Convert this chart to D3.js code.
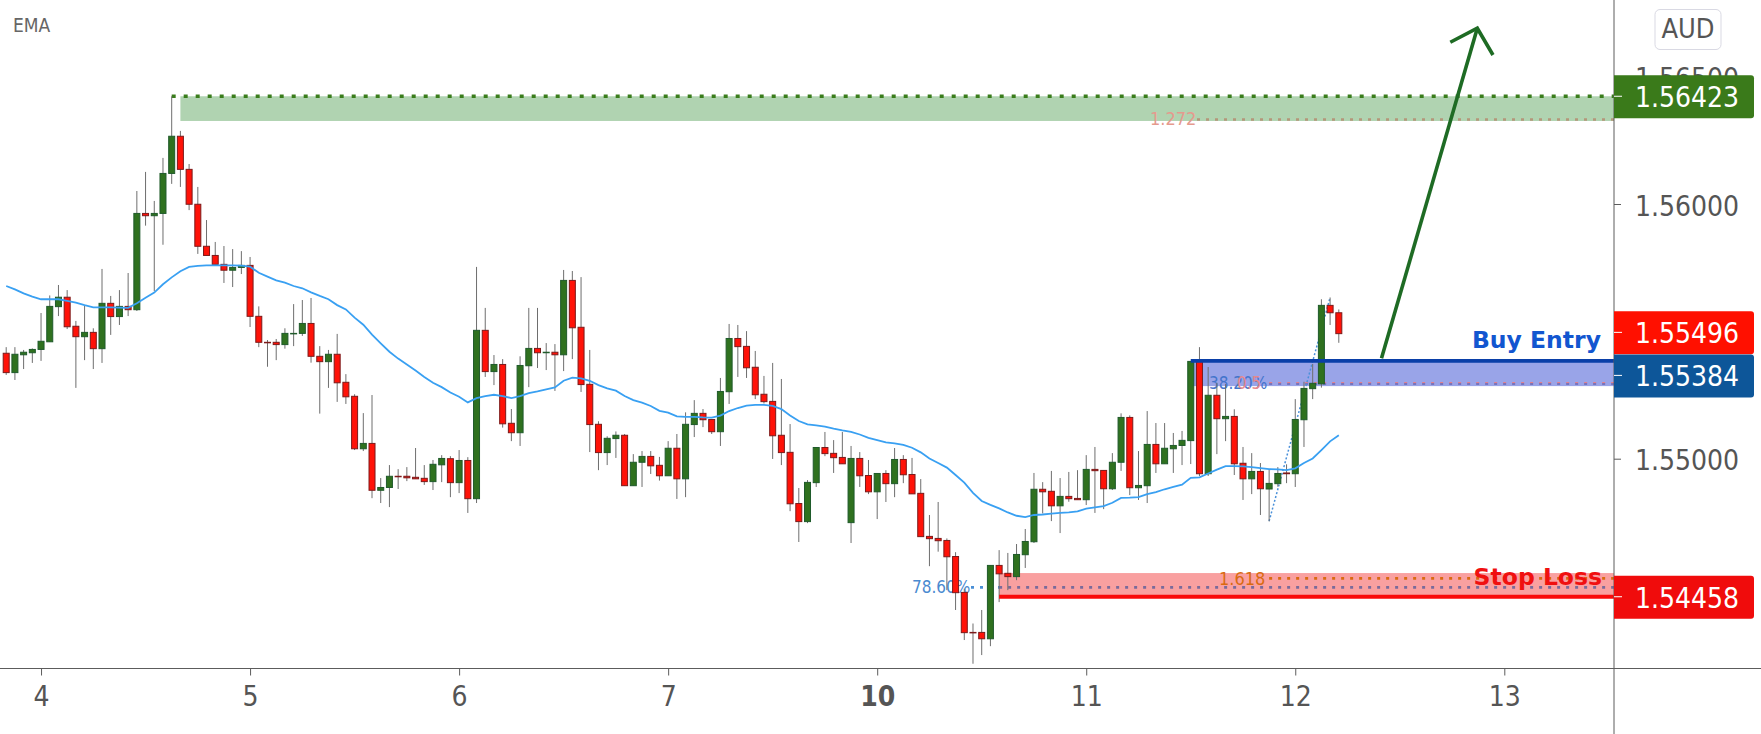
<!DOCTYPE html>
<html>
<head>
<meta charset="utf-8" />
<title>AUD chart</title>
<script src="https://cdnjs.cloudflare.com/ajax/libs/d3/7.8.5/d3.min.js"></script>
<style>
	html, body { margin: 0; padding: 0; background: #fff; overflow: hidden; }
	svg { display: block; }
	text { font-family: "DejaVu Sans Condensed", "DejaVu Sans", sans-serif; }
</style>
</head>
<body>
<svg id="chart" width="1761" height="734"></svg>
<script>
// hourly candles, index 0 is the first bar on screen
var opens = [1.55414,1.55338,1.55408,1.55416,1.55429,1.55459,1.55597,1.55634,1.55520,1.55479,1.55496,1.55432,1.55610,1.55558,1.55598,1.55585,1.55963,1.55954,1.55963,1.56120,1.56266,1.56136,1.55999,1.55834,1.55798,1.55763,1.55740,1.55751,1.55759,1.55559,1.55457,1.55457,1.55448,1.55491,1.55492,1.55531,1.55402,1.55381,1.55410,1.55300,1.55245,1.55039,1.55060,1.54876,1.54887,1.54931,1.54931,1.54927,1.54923,1.54910,1.54976,1.55000,1.54906,1.54993,1.54843,1.55504,1.55342,1.55370,1.55139,1.55102,1.55365,1.55433,1.55416,1.55418,1.55408,1.55700,1.55516,1.55292,1.55135,1.55024,1.55079,1.55092,1.54894,1.54986,1.55009,1.54974,1.54933,1.55041,1.54921,1.55134,1.55178,1.55154,1.55106,1.55263,1.55472,1.55441,1.55359,1.55253,1.55225,1.55092,1.55025,1.54824,1.54753,1.54906,1.55044,1.55021,1.55005,1.54749,1.55001,1.54934,1.54870,1.54942,1.54902,1.54997,1.54938,1.54864,1.54695,1.54687,1.54679,1.54616,1.54475,1.54318,1.54318,1.54293,1.54581,1.54550,1.54537,1.54623,1.54674,1.54880,1.54872,1.54815,1.54852,1.54844,1.54839,1.54958,1.54954,1.54882,1.54986,1.55162,1.54886,1.54894,1.55056,1.54980,1.55039,1.55052,1.55071,1.55382,1.54941,1.55249,1.55157,1.55166,1.54982,1.54921,1.54950,1.54881,1.54902,1.54944,1.54941,1.55153,1.55275,1.55294,1.55602,1.55573];
var highs = [1.55438,1.55438,1.55427,1.55433,1.55572,1.55641,1.55682,1.55662,1.55541,1.55601,1.55512,1.55745,1.55639,1.55662,1.55729,1.56051,1.56126,1.56012,1.56181,1.56423,1.56287,1.56157,1.56067,1.55937,1.55851,1.55835,1.55823,1.55815,1.55792,1.55598,1.55466,1.55470,1.55512,1.55607,1.55623,1.55631,1.55442,1.55427,1.55490,1.55332,1.55253,1.55179,1.55250,1.54924,1.54975,1.54959,1.54967,1.55042,1.54975,1.54995,1.55014,1.55010,1.55034,1.55006,1.55753,1.55592,1.55407,1.55391,1.55195,1.55402,1.55592,1.55592,1.55454,1.55450,1.55741,1.55737,1.55713,1.55427,1.55147,1.55088,1.55107,1.55097,1.55018,1.55030,1.55030,1.55007,1.55069,1.55097,1.55182,1.55230,1.55195,1.55154,1.55317,1.55529,1.55525,1.55501,1.55423,1.55325,1.55376,1.55313,1.55136,1.54885,1.54916,1.55044,1.55105,1.55073,1.55105,1.55050,1.55026,1.54995,1.54942,1.54955,1.55042,1.55014,1.55003,1.54920,1.54779,1.54830,1.54687,1.54633,1.54490,1.54353,1.54406,1.54581,1.54641,1.54630,1.54665,1.54724,1.54944,1.54908,1.54952,1.54924,1.54948,1.54955,1.55014,1.55046,1.54955,1.55022,1.55178,1.55170,1.55030,1.55187,1.55140,1.55140,1.55101,1.55109,1.55382,1.55438,1.55360,1.55298,1.55293,1.55194,1.55046,1.55022,1.54983,1.54958,1.54967,1.54978,1.55234,1.55302,1.55372,1.55626,1.55633,1.55586];
var lows = [1.55329,1.55309,1.55352,1.55376,1.55384,1.55459,1.55560,1.55509,1.55278,1.55387,1.55352,1.55376,1.55486,1.55525,1.55560,1.55580,1.55915,1.55658,1.55840,1.56079,1.56067,1.55976,1.55804,1.55798,1.55763,1.55690,1.55674,1.55725,1.55517,1.55438,1.55361,1.55387,1.55432,1.55442,1.55482,1.55377,1.55177,1.55278,1.55223,1.55215,1.55034,1.55030,1.54845,1.54826,1.54810,1.54881,1.54912,1.54921,1.54897,1.54877,1.54908,1.54849,1.54865,1.54787,1.54826,1.55321,1.55289,1.55122,1.55069,1.55050,1.55281,1.55356,1.55348,1.55266,1.55344,1.55391,1.55262,1.55026,1.54955,1.54975,1.55003,1.54894,1.54894,1.54889,1.54940,1.54914,1.54933,1.54842,1.54849,1.55085,1.55124,1.55097,1.55050,1.55215,1.55321,1.55317,1.55234,1.55217,1.54999,1.54975,1.54794,1.54673,1.54747,1.54889,1.55010,1.54944,1.54980,1.54669,1.54889,1.54861,1.54763,1.54830,1.54849,1.54904,1.54862,1.54694,1.54578,1.54635,1.54484,1.54406,1.54288,1.54195,1.54229,1.54264,1.54437,1.54484,1.54523,1.54571,1.54669,1.54785,1.54755,1.54708,1.54831,1.54839,1.54818,1.54787,1.54802,1.54877,1.54952,1.54857,1.54838,1.54826,1.54944,1.54980,1.54944,1.54975,1.54979,1.54932,1.54932,1.55018,1.55069,1.54936,1.54838,1.54861,1.54779,1.54754,1.54890,1.54904,1.54889,1.55046,1.55234,1.55279,1.55525,1.55455];
var closes = [1.55338,1.55410,1.55418,1.55429,1.55461,1.55598,1.55634,1.55518,1.55479,1.55496,1.55432,1.55610,1.55558,1.55598,1.55585,1.55963,1.55954,1.55963,1.56120,1.56266,1.56136,1.55999,1.55834,1.55798,1.55763,1.55740,1.55751,1.55759,1.55559,1.55457,1.55455,1.55448,1.55492,1.55492,1.55531,1.55402,1.55381,1.55410,1.55298,1.55243,1.55039,1.55060,1.54876,1.54887,1.54931,1.54929,1.54925,1.54921,1.54910,1.54978,1.55001,1.54906,1.54993,1.54843,1.55504,1.55342,1.55370,1.55137,1.55102,1.55366,1.55433,1.55416,1.55418,1.55408,1.55700,1.55514,1.55291,1.55134,1.55024,1.55080,1.55092,1.54894,1.54986,1.55009,1.54972,1.54933,1.55041,1.54921,1.55135,1.55178,1.55153,1.55106,1.55264,1.55472,1.55440,1.55357,1.55251,1.55224,1.55090,1.55024,1.54823,1.54753,1.54907,1.55044,1.55020,1.55004,1.54980,1.55001,1.54933,1.54870,1.54942,1.54902,1.54997,1.54937,1.54862,1.54694,1.54686,1.54678,1.54615,1.54474,1.54317,1.54317,1.54293,1.54581,1.54548,1.54537,1.54624,1.54675,1.54880,1.54870,1.54815,1.54852,1.54843,1.54839,1.54958,1.54953,1.54882,1.54986,1.55162,1.54886,1.54895,1.55056,1.54980,1.55041,1.55052,1.55072,1.55382,1.54941,1.55249,1.55157,1.55166,1.54980,1.54921,1.54950,1.54882,1.54903,1.54942,1.54941,1.55154,1.55276,1.55296,1.55602,1.55573,1.55491];
var ema = [1.55678,1.55665,1.55649,1.55636,1.55626,1.55626,1.55626,1.55620,1.55613,1.55603,1.55594,1.55594,1.55594,1.55593,1.55592,1.55610,1.55632,1.55652,1.55685,1.55712,1.55736,1.55753,1.55757,1.55759,1.55759,1.55759,1.55759,1.55758,1.55754,1.55730,1.55715,1.55700,1.55691,1.55678,1.55669,1.55653,1.55639,1.55626,1.55603,1.55586,1.55554,1.55526,1.55487,1.55453,1.55420,1.55393,1.55370,1.55346,1.55321,1.55298,1.55281,1.55260,1.55243,1.55221,1.55238,1.55246,1.55251,1.55246,1.55238,1.55246,1.55257,1.55264,1.55272,1.55280,1.55306,1.55318,1.55315,1.55306,1.55289,1.55276,1.55267,1.55246,1.55230,1.55220,1.55207,1.55188,1.55181,1.55166,1.55164,1.55164,1.55162,1.55161,1.55169,1.55187,1.55199,1.55208,1.55211,1.55211,1.55207,1.55195,1.55170,1.55148,1.55135,1.55131,1.55126,1.55118,1.55111,1.55105,1.55095,1.55082,1.55073,1.55064,1.55060,1.55054,1.55043,1.55025,1.55001,1.54983,1.54965,1.54936,1.54906,1.54866,1.54834,1.54819,1.54805,1.54789,1.54776,1.54771,1.54779,1.54781,1.54784,1.54787,1.54789,1.54793,1.54804,1.54809,1.54814,1.54827,1.54846,1.54847,1.54849,1.54861,1.54869,1.54880,1.54889,1.54898,1.54925,1.54927,1.54942,1.54957,1.54971,1.54971,1.54970,1.54967,1.54963,1.54959,1.54958,1.54955,1.54962,1.54983,1.55001,1.55034,1.55068,1.55092];

var dayLabels = ["4","5","6","7","10","11","12","13"];
var dayBars = [4,28,52,76,100,124,148,172];
var priceTicks = [1.565,1.56,1.55];

// drawn levels: start bar and price
var targetTop = 1.56423, targetBottom = 1.56326, targetStart = 20, targetDotStart = 19;
var ext1272 = 1.56332, ext1272Start = 137;
var entryTop = 1.55384, entryBottom = 1.55285, entryStart = 136;
var fib382 = 1.55296;
var stopLine = 1.54458, stopTop = 1.54551, stopStart = 114;
var ext1618 = 1.5453, fib786 = 1.54495;
var fibLeg = [[145,1.54755],[152,1.55633]];
var arrowShaft = [[157.9,1.55394],[168.9,1.5669]];
var arrowHead = [[165.8,1.56635],[168.9,1.5669],[170.7,1.56585]];

var svg = d3.select("#chart");
var axisX = 1614, axisY = 668.5;

var x = d3.scaleLinear().domain([0,172]).range([6.2,1504.3]);
var y = d3.scaleLinear().domain([1.56,1.55]).range([204,458.7]);

var candles = d3.range(opens.length).map(function(i){
	return {i:i, o:opens[i], h:highs[i], l:lows[i], c:closes[i]};
});

function hline(p, x1, x2, color, w, dash){
	svg.append("line")
		.attr("x1",x1).attr("x2",x2)
		.attr("y1",y(p)).attr("y2",y(p))
		.attr("stroke",color).attr("stroke-width",w).attr("stroke-dasharray",dash);
}

function label(txt, px, py, color, size, anchor, weight){
	return svg.append("text")
		.attr("x",px).attr("y",py)
		.attr("fill",color).attr("font-size",size)
		.attr("text-anchor",anchor||"start")
		.attr("font-weight",weight||"normal")
		.text(txt);
}

// zones
svg.append("rect").attr("x",x(targetStart)).attr("width",axisX-x(targetStart))
	.attr("y",y(targetTop)).attr("height",y(targetBottom)-y(targetTop)).attr("fill","#b0d3b1");
svg.append("rect").attr("x",x(entryStart)).attr("width",axisX-x(entryStart))
	.attr("y",y(entryTop)).attr("height",y(entryBottom)-y(entryTop)).attr("fill","#99a4e8");
svg.append("rect").attr("x",x(stopStart)).attr("width",axisX-x(stopStart))
	.attr("y",y(stopTop)).attr("height",y(stopLine)-y(stopTop)).attr("fill","#f9a0a0");

// dotted levels
hline(targetTop, x(targetDotStart), axisX, "#3a7d1c", 3.6, "4 8");
hline(ext1272, 1197, axisX, "#b4967a", 2.4, "3 6");
hline(fib382, x(145), axisX, "#e0808e", 2.8, "3 6");
hline(fib382-0.00003, x(145), axisX, "#5a6fc8", 1.6, "3 6");
hline(ext1618, x(145), axisX, "#d96a10", 2.8, "3 6");
hline(fib786, 971, x(stopStart), "#4a8fd6", 2.8, "3 6");
hline(fib786, x(stopStart), axisX, "#7a6a9a", 2.8, "3 6");

svg.append("path")
	.attr("d",d3.line().x(function(d){return x(d[0]);}).y(function(d){return y(d[1]);})(fibLeg))
	.attr("fill","none").attr("stroke","#4a90d9").attr("stroke-width",1.5).attr("stroke-dasharray","2 2");

// fib labels
label("1.272", 1150, 125, "#e59a8e", 18);
label("38.20%", 1209, 389, "#4474cc", 17);
label("0.5", 1237, 389, "#e8888c", 17);
label("1.618", 1219, 585, "#d96a10", 18);
label("78.60%", 912, 593, "#4a8ad0", 17);

// candles
var bar = svg.append("g").selectAll("g").data(candles).enter().append("g");
bar.append("line")
	.attr("x1",function(d){return x(d.i);}).attr("x2",function(d){return x(d.i);})
	.attr("y1",function(d){return y(d.h);}).attr("y2",function(d){return y(d.l);})
	.attr("stroke","#6e6e6e").attr("stroke-width",1);
bar.append("rect")
	.attr("x",function(d){return x(d.i)-3;})
	.attr("width",6)
	.attr("y",function(d){return y(Math.max(d.o,d.c));})
	.attr("height",function(d){return Math.max(0.5,y(Math.min(d.o,d.c))-y(Math.max(d.o,d.c)));})
	.attr("fill",function(d){return d.c>=d.o ? "#2f711f" : "#ff1208";})
	.attr("stroke",function(d){return d.c>=d.o ? "#1f5a2b" : "#7c1a1a";})
	.attr("stroke-width",1);

// EMA
svg.append("path")
	.attr("d",d3.line().x(function(d,i){return x(i);}).y(function(d){return y(d);})(ema))
	.attr("fill","none").attr("stroke","#39a0f2").attr("stroke-width",1.8);

// level lines on top
hline(entryTop, x(entryStart), axisX, "#0a3fa8", 3.6);
hline(stopLine, x(stopStart), axisX, "#f90a0a", 4);

// arrow
var arrowLine = d3.line().x(function(d){return x(d[0]);}).y(function(d){return y(d[1]);});
svg.append("path").attr("d",arrowLine(arrowShaft)).attr("fill","none").attr("stroke","#1e6b24").attr("stroke-width",3.6);
svg.append("path").attr("d",arrowLine(arrowHead)).attr("fill","none").attr("stroke","#1e6b24").attr("stroke-width",3.6);

label("Buy Entry", 1601, 348, "#1256d0", 23.5, "end", "bold").style("font-family","'DejaVu Sans'");
label("Stop Loss", 1602, 585, "#f01010", 23.5, "end", "bold").style("font-family","'DejaVu Sans'");
label("EMA", 13, 32, "#666", 19);

// axes
svg.append("line").attr("x1",axisX).attr("x2",axisX).attr("y1",0).attr("y2",734).attr("stroke","#5c5c5c").attr("stroke-width",1);
var xAxis = d3.axisBottom(x).tickValues(dayBars).tickSize(7)
	.tickFormat(function(d,i){return dayLabels[i];});
var gx = svg.append("g").attr("transform","translate(0,"+axisY+")").call(xAxis);
gx.select(".domain").remove();
gx.selectAll(".tick line").attr("stroke","#5c5c5c");
gx.selectAll(".tick text").attr("y",18).attr("fill","#555").attr("font-size",28)
	.style("font-family","'DejaVu Sans Condensed','DejaVu Sans',sans-serif")
	.attr("font-weight",function(d){return d===100?"bold":"normal";});
svg.append("line").attr("x1",0).attr("x2",1761).attr("y1",axisY).attr("y2",axisY).attr("stroke","#5c5c5c").attr("stroke-width",1);

var yAxis = d3.axisRight(y).tickValues(priceTicks).tickSize(7).tickFormat(d3.format(".5f"));
var gy = svg.append("g").attr("transform","translate("+axisX+",0)").call(yAxis);
gy.select(".domain").remove();
gy.selectAll(".tick line").attr("stroke","#5c5c5c");
gy.selectAll(".tick text").attr("x",21).attr("dy","0.4em").attr("fill","#555").attr("font-size",28)
	.style("font-family","'DejaVu Sans Condensed','DejaVu Sans',sans-serif");

// price badges: label text, colour, price of the tick, how far the box was pushed down
var badgeTexts = ["1.56423","1.55496","1.55384","1.54458"];
var badgeColors = ["#3a7a1a","#ff1000","#0d5699","#f00c0c"];
var badgePrices = [1.56423,1.55496,1.55384,1.54458];
var badgeShift = [0,0,14.5,0];
badgeTexts.forEach(function(t,i){
	var py = y(badgePrices[i])+badgeShift[i];
	svg.append("path")
		.attr("d","M"+axisX+","+(py-21)+"h137a3,3 0 0 1 3,3v37a3,3 0 0 1 -3,3h-137z")
		.attr("fill",badgeColors[i]);
	svg.append("line").attr("x1",axisX).attr("x2",axisX+8).attr("y1",py).attr("y2",py).attr("stroke","#fff");
	label(t, axisX+21, py+11, "#fff", 28);
});

// currency box
svg.append("rect").attr("x",1655).attr("y",9.5).attr("width",66).attr("height",40).attr("rx",5)
	.attr("fill","#fff").attr("stroke","#d9d9e3");
label("AUD", 1688, 38, "#555", 27, "middle");
</script>
</body>
</html>
